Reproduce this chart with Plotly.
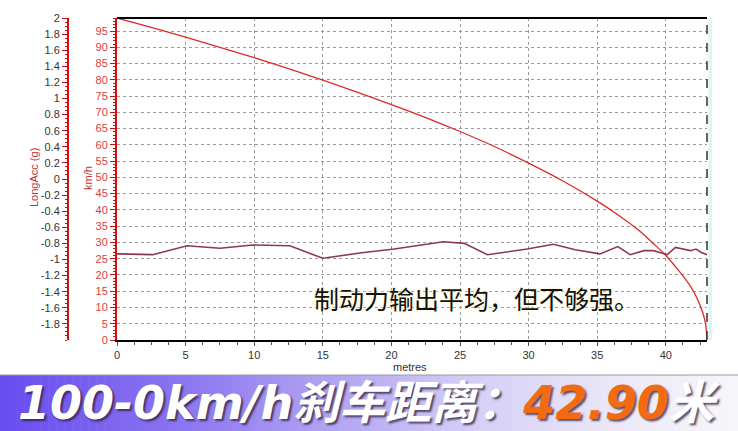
import plotly.graph_objects as go

# ---- data ----
dist_speed = [0, 2.5, 5, 7.5, 10, 12.5, 15, 17.5, 20, 22.5, 25, 27.5, 30, 32.5,
              35, 36.5, 38, 39, 40, 41, 41.8, 42.3, 42.7, 42.9, 43]
speed_kmh = [99, 96.1, 93.1, 90, 86.8, 83.4, 79.9, 76.2, 72.4, 68.4, 64.1, 59.5,
             54.4, 48.9, 42.7, 38.5, 33.8, 30, 26, 21, 16.5, 12.6, 8.3, 4.8, 0]

dist_acc = [0, 2.6, 5.1, 7.5, 9.9, 12.6, 15.0, 17.7, 20.2, 23.8, 25.3, 27.0, 29.9,
            31.8, 33.4, 35.2, 36.5, 37.4, 38.4, 39.1, 40.1, 40.7, 41.8, 42.2, 42.55, 43]
long_acc = [-0.93, -0.94, -0.83, -0.86, -0.82, -0.83, -0.985, -0.92, -0.87, -0.78,
            -0.80, -0.94, -0.87, -0.81, -0.88, -0.93, -0.84, -0.94, -0.89, -0.89,
            -0.94, -0.85, -0.89, -0.87, -0.91, -0.94]

x_ticks = [0, 5, 10, 15, 20, 25, 30, 35, 40]
kmh_ticks = list(range(0, 100, 5))
acc_tickvals = [2, 1.8, 1.6, 1.4, 1.2, 1, 0.8, 0.6, 0.4, 0.2, 0, -0.2, -0.4, -0.6,
                -0.8, -1, -1.2, -1.4, -1.6, -1.8]
acc_ticktext = ["2", "1.8", "1.6", "1.4", "1.2", "1", "0.8", "0.6", "0.4", "0.2", "0",
                "-0.2", "-0.4", "-0.6", "-0.8", "-1", "-1.2", "-1.4", "-1.6", "-1.8"]

title_text = "100-0km/h刹车距离："
title_value = "42.90"
title_unit = "米"
note_text = "制动力输出平均，但不够强。"

# ---- geometry helpers ----
W, H = 738, 431
ML, MR, MT, MB = 20, 31, 18, 91
PW = W - ML - MR
PH = H - MT - MB


def px_x(px):
    return (px - ML) / PW


def px_y(py):
    return (H - MB - py) / PH


fig = go.Figure()

fig.add_trace(go.Scatter(x=dist_acc, y=long_acc, yaxis="y2", mode="lines",
                         line=dict(color="#8b3a4e", width=1.6), hoverinfo="skip",
                         name="LongAcc"))
fig.add_trace(go.Scatter(x=dist_speed, y=speed_kmh, yaxis="y", mode="lines",
                         line=dict(color="#e02828", width=1.3, shape="spline"),
                         hoverinfo="skip", name="km/h"))

tick_font = dict(family="Liberation Sans, Arial, sans-serif", size=11)
GRID = "#9a9a9a"

fig.update_layout(
    width=W, height=H,
    margin=dict(l=ML, r=MR, t=MT, b=MB),
    paper_bgcolor="white", plot_bgcolor="white",
    showlegend=False,
    xaxis=dict(domain=[px_x(117), 1], range=[0, 43], tickvals=x_ticks,
               showgrid=True, gridcolor=GRID, griddash="3px,3px", gridwidth=1,
               showline=True, linecolor="black", linewidth=2,
               ticks="outside", ticklen=4, tickcolor="#555",
               minor=dict(dtick=1.25, ticks="outside", ticklen=3, tickcolor="#555", showgrid=False),
               tickfont=dict(color="#333", **tick_font), zeroline=False),
    yaxis=dict(range=[0, 99], tickvals=kmh_ticks, showgrid=True, gridcolor=GRID,
               griddash="3px,3px", gridwidth=1, showline=True, linecolor="#cc1010",
               linewidth=2, ticks="outside", ticklen=5, tickcolor="#cc1010",
               minor=dict(dtick=1, ticks="outside", ticklen=2, tickcolor="#cc1010", showgrid=False),
               tickfont=dict(color="#e03c3c", **tick_font), zeroline=False),
    yaxis2=dict(range=[-2, 2], overlaying="y", anchor="free", side="left",
                position=px_x(68), tickvals=acc_tickvals, ticktext=acc_ticktext,
                showgrid=False, showline=True, linecolor="#cc1010", linewidth=2,
                ticks="outside", ticklen=5, tickcolor="#cc1010",
                minor=dict(dtick=0.05, ticks="outside", ticklen=2, tickcolor="#cc1010"),
                tickfont=dict(color="#333", **tick_font), zeroline=False),
)

shapes = []
# top border and dashed right border of plot
shapes.append(dict(type="line", xref="paper", yref="paper", x0=px_x(117), x1=1, y0=1, y1=1,
                   line=dict(color="black", width=2)))
shapes.append(dict(type="rect", xref="paper", yref="paper", x0=1.002, x1=px_x(712), y0=0, y1=1,
                   fillcolor="#dff5f5", line=dict(width=0), layer="below"))
shapes.append(dict(type="line", xref="paper", yref="paper", x0=1, x1=1, y0=0, y1=1,
                   line=dict(color="#333", width=1.5, dash="dash")))

# gradient banner
stops = [(0.0, (104, 76, 240)), (0.25, (140, 118, 240)), (0.45, (178, 164, 242)),
         (0.65, (214, 208, 246)), (0.85, (236, 234, 248)), (1.0, (246, 246, 250))]


def grad(t):
    for (t0, c0), (t1, c1) in zip(stops[:-1], stops[1:]):
        if t0 <= t <= t1:
            f = (t - t0) / (t1 - t0)
            return "rgb(%d,%d,%d)" % tuple(round(a + (b - a) * f) for a, b in zip(c0, c1))
    return "rgb(246,246,250)"


N = 92
for i in range(N):
    xa = W * i / N
    xb = W * (i + 1) / N + 0.6
    shapes.append(dict(type="rect", xref="paper", yref="paper",
                       x0=px_x(xa), x1=px_x(xb), y0=px_y(432), y1=px_y(375),
                       fillcolor=grad((i + 0.5) / N), line=dict(width=0), layer="below"))
shapes.append(dict(type="line", xref="paper", yref="paper", x0=px_x(0), x1=px_x(W),
                   y0=px_y(375), y1=px_y(375), line=dict(color="#9a9a9a", width=1)))
fig.update_layout(shapes=shapes)

C = dict(xanchor="center", yanchor="middle", showarrow=False, xref="paper", yref="paper")
ann = []
ann.append(dict(x=px_x(410), y=px_y(367), text="metres",
                font=dict(family="Liberation Sans, Arial", size=11, color="#333"), **C))
ann.append(dict(x=px_x(34), y=px_y(178), text="LongAcc (g)", textangle=-90,
                font=dict(family="Liberation Sans, Arial", size=11, color="#c83030"), **C))
ann.append(dict(x=px_x(88), y=px_y(178), text="km/h", textangle=-90,
                font=dict(family="Liberation Sans, Arial", size=11, color="#c83030"), **C))
ann.append(dict(x=px_x(476), y=px_y(298), text=note_text,
                font=dict(family="Noto Sans CJK SC", size=25, color="#111",
                          shadow="0px 0px 4px #fff6c0"), **C))
ann.append(dict(x=px_x(369), y=px_y(403),
                text=title_text + "<span style='color:#f26a12'>" + title_value + "</span>" + title_unit,
                font=dict(family="DejaVu Sans, Noto Sans CJK SC", size=46, color="white",
                          weight="bold", style="italic",
                          shadow="2px 2px 2px rgba(40,30,60,0.75)"), **C))
fig.update_layout(annotations=ann)

fig.write_html("out.html", config={"displayModeBar": False},
               post_script="document.body.style.margin='0';")
